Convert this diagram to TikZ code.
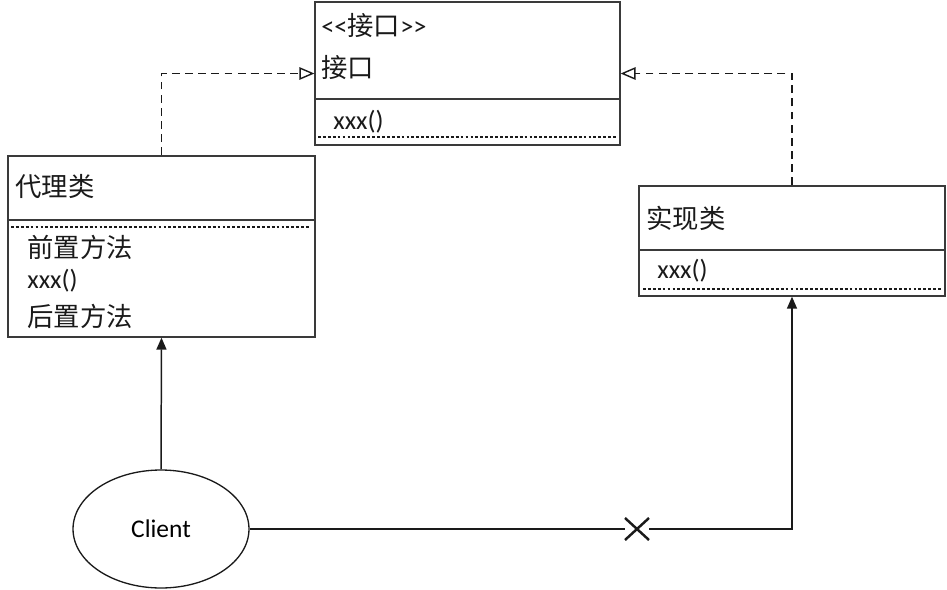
\documentclass[tikz,border=0pt]{standalone}
\usepackage{fontspec}
\usepackage{tikz}
\usepackage{xcolor}
\usetikzlibrary{arrows.meta,positioning,shapes,calc}
\setmainfont{Carlito}
\newfontfamily\cjk{Noto Sans CJK SC}
\definecolor{ink}{HTML}{1A1A1A}
\definecolor{boxline}{HTML}{3A3A3A}
\tikzset{
  umlbox/.style={draw=boxline,fill=white,line width=0.75pt,inner sep=0pt},
  label/.style={anchor=west,inner sep=0pt,font=\fontsize{15}{18}\selectfont,text=ink},
  divider/.style={draw=boxline,line width=0.75pt},
  dotline/.style={draw=ink,line width=0.6pt,dash pattern=on 1.6pt off 1.2pt},
  realizearr/.style={-{Triangle[open,length=3mm,width=2.5mm]},
                     dash pattern=on 4.5pt off 3pt,line width=0.8pt,draw=ink},
  callarr/.style={-{Triangle[length=2.4mm,width=2mm]},line width=0.85pt,
                  draw=ink},
  xmark/.style={cross out,draw=ink,line width=1.4pt,minimum width=0.36cm,
                minimum height=0.32cm,outer sep=0.06cm}
}
\begin{document}
\begin{tikzpicture}[x=0.02cm,y=-0.02cm]
    \path[use as bounding box] (0,0) rectangle (947,589);

    % interface box
    \node[umlbox,minimum width=6.1cm,minimum height=2.86cm] (iface) at (467.5,73.5) {};
    \draw[divider] (315,99) -- (620,99);
    \draw[dotline] (318,137) -- (616,137);
    \node[label] (istereo) at (321,26) {<\kern0pt<{\cjk 接口}>\kern0pt>};
    \node[label] (iname) at (321,68) {\cjk 接口};
    \node[label] (imeth) at (333,122) {xxx()};

    % proxy class
    \node[umlbox,minimum width=6.14cm,minimum height=3.62cm] (proxy) at (161.5,246.5) {};
    \draw[divider] (8,220) -- (315,220);
    \draw[dotline] (11,227) -- (311,227);
    \node[label] (pname) at (15,187) {\cjk 代理类};
    \node[label] (pbefore) at (27,247) {\cjk 前置方法};
    \node[label] (pmeth) at (27,281) {xxx()};
    \node[label] (pafter) at (27,316) {\cjk 后置方法};

    % real class
    \node[umlbox,minimum width=6.12cm,minimum height=2.2cm] (impl) at (792,241) {};
    \draw[divider] (639,250) -- (945,250);
    \draw[dotline] (643,289) -- (941,289);
    \node[label] (rname) at (646,218) {\cjk 实现类};
    \node[label] (rmeth) at (657,271) {xxx()};

    % client
    \node[ellipse,draw=ink,line width=0.75pt,minimum width=3.52cm,minimum height=2.36cm,
          font=\fontsize{14.5}{17}\selectfont] (client) at (161,529) {Client};
    \node[xmark] (cut) at (637,529) {};

    \draw[realizearr] (proxy.north) |- (iface.west);
    \draw[realizearr] (impl.north) |- (iface.east);
    \draw[callarr] (client.north) -- (proxy.south);
    \draw[line width=0.85pt,draw=ink] (client.east) -- (cut.west);
    \draw[callarr] (cut.east) -| (impl.south);
  \end{tikzpicture}
\end{document}
